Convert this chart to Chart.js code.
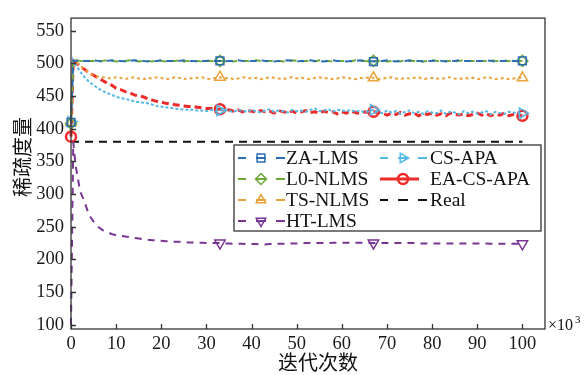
<!DOCTYPE html>
<html>
<head>
<meta charset="utf-8">
<script src="https://cdn.jsdelivr.net/npm/chart.js@4/dist/chart.umd.min.js"></script>
<style>
  html, body { margin: 0; padding: 0; background: #fff; }
  #wrap { width: 585px; height: 375px; }
</style>
</head>
<body>
<div id="wrap"><canvas id="grafico" width="585" height="375"></canvas></div>
<script>
// Iterações (x10^3)
const iteracoes = [0, 0.5,
  1, 2, 3, 4, 5, 6, 7, 8, 9, 10,
  11, 12, 13, 14, 15, 16, 17, 18, 19, 20,
  21, 22, 23, 24, 25, 26, 27, 28, 29, 30,
  31, 32, 33, 34, 35, 36, 37, 38, 39, 40,
  41, 42, 43, 44, 45, 46, 47, 48, 49, 50,
  51, 52, 53, 54, 55, 56, 57, 58, 59, 60,
  61, 62, 63, 64, 65, 66, 67, 68, 69, 70,
  71, 72, 73, 74, 75, 76, 77, 78, 79, 80,
  81, 82, 83, 84, 85, 86, 87, 88, 89, 90,
  91, 92, 93, 94, 95, 96, 97, 98, 99, 100];

const zaLms = [410, 505,
  504, 505, 504, 504, 505, 504, 503, 504, 505, 504,
  504, 503, 504, 505, 504, 504, 503, 504, 504, 505,
  504, 504, 503, 504, 505, 504, 504, 503, 504, 504,
  505, 504, 504, 503, 504, 504, 505, 504, 503, 504,
  504, 505, 504, 504, 503, 504, 504, 505, 504, 503,
  504, 504, 505, 504, 504, 503, 504, 505, 504, 504,
  503, 504, 504, 505, 504, 504, 503, 504, 504, 505,
  504, 503, 504, 504, 505, 504, 504, 503, 504, 504,
  505, 504, 503, 504, 504, 505, 504, 504, 503, 504,
  504, 505, 504, 503, 504, 504, 505, 504, 504, 504];

const l0Nlms = [408, 505,
  505, 504, 503, 504, 504, 503, 504, 505, 504, 503,
  504, 504, 505, 504, 503, 504, 504, 503, 505, 504,
  503, 504, 504, 505, 503, 504, 504, 504, 503, 504,
  504, 503, 504, 504, 505, 503, 504, 504, 504, 503,
  505, 504, 503, 504, 504, 504, 503, 504, 505, 504,
  503, 504, 504, 503, 505, 504, 504, 503, 504, 504,
  504, 503, 505, 504, 504, 503, 504, 504, 505, 503,
  504, 504, 503, 505, 504, 504, 504, 503, 504, 505,
  504, 503, 504, 504, 503, 504, 505, 504, 504, 503,
  504, 504, 505, 504, 503, 504, 504, 503, 504, 504];

const tsNlms = [410, 505,
  503, 497, 491, 486, 482, 480, 479, 478, 477, 479,
  478, 476, 478, 479, 477, 476, 478, 477, 479, 478,
  476, 477, 479, 478, 476, 478, 477, 478, 479, 477,
  476, 478, 479, 477, 478, 476, 477, 479, 478, 477,
  478, 476, 477, 479, 478, 477, 476, 478, 479, 477,
  478, 477, 476, 478, 479, 477, 478, 476, 477, 479,
  478, 477, 476, 478, 477, 479, 478, 476, 477, 478,
  479, 477, 476, 478, 477, 478, 479, 476, 477, 478,
  477, 476, 478, 479, 477, 476, 478, 477, 478, 476,
  477, 479, 478, 476, 477, 478, 476, 477, 478, 478];

const htLms = [100, 380,
  345, 305, 288, 268, 258, 250, 245, 242, 239, 237,
  236, 235, 234, 233, 232, 231, 230, 229.5, 229, 228.5,
  228, 227.5, 227, 227, 226.5, 226, 226, 225.5, 225.5, 225,
  225, 225, 225, 224.5, 224.5, 224, 224, 224, 223.5, 223.5,
  223.5, 223, 223, 223.5, 223.5, 224, 224, 224, 224.5, 224.5,
  224.5, 225, 225, 225, 225, 225, 225, 225.5, 225.5, 225.5,
  225.5, 225.5, 225.5, 225.5, 225.5, 225.5, 225, 225, 225, 225,
  225, 225, 225, 225, 225, 225, 224.5, 224.5, 224.5, 224.5,
  224.5, 224.5, 224.5, 224.5, 224.5, 224.5, 224.5, 224.5, 224.5, 224.5,
  224.5, 224.5, 224, 224, 224, 224, 224, 224, 224, 224];

const csApa = [411, 505,
  498, 488, 479, 472, 467, 462, 458, 455, 452, 449,
  447, 446, 444, 442, 441, 440, 439, 437, 435, 434,
  433, 432, 431, 430, 430, 429, 429, 428, 428, 427,
  429, 427, 428, 430, 427, 426, 429, 428, 426, 429,
  427, 425, 428, 430, 426, 428, 427, 425, 429, 427,
  428, 426, 429, 431, 427, 428, 430, 426, 429, 428,
  427, 429, 426, 428, 425, 427, 429, 426, 424, 428,
  425, 427, 423, 426, 428, 424, 426, 423, 427, 425,
  424, 428, 423, 426, 425, 422, 427, 424, 426, 423,
  425, 427, 422, 426, 424, 423, 426, 425, 424, 424];

const eaCsApa = [388, 505,
  502, 496, 491, 486, 482, 478, 474, 470, 467, 462,
  460, 457, 455, 452, 450, 449, 446, 444, 442, 441,
  439, 438, 437, 436, 435, 434, 434, 433, 432, 431,
  431, 430, 430, 428, 429, 427, 429, 426, 428, 427,
  425, 428, 426, 427, 424, 428, 426, 425, 427, 424,
  426, 428, 425, 426, 424, 427, 425, 426, 423, 426,
  424, 427, 425, 423, 426, 425, 426, 425, 424, 421,
  424, 422, 425, 421, 423, 424, 420, 423, 422, 424,
  421, 423, 420, 424, 422, 421, 423, 420, 422, 424,
  421, 423, 420, 422, 421, 424, 420, 422, 421, 420];

// Valor real
const realX = [0, 100];
const realY = [380, 380];

const xTicks = [0, 10, 20, 30, 40, 50, 60, 70, 80, 90, 100];
const yTicks = [100, 150, 200, 250, 300, 350, 400, 450, 500, 550];
const marcadoresX = [0, 33, 67, 100];

const fonteSerif = 'Liberation Serif';
const fonteCjk = 'Noto Sans CJK SC';

function pontos(valores) {
  return valores.map((v, i) => ({ x: iteracoes[i], y: v }));
}

function raioMarcador(r, semInicio) {
  return ctx => {
    const x = iteracoes[ctx.dataIndex];
    if (semInicio && x === 0) return 0;
    return marcadoresX.includes(x) ? r : 0;
  };
}

function serie(label, valores, cor, opts) {
  return Object.assign({
    label: label,
    data: pontos(valores),
    borderColor: cor,
    borderWidth: 2,
    pointStyle: 'circle',
    pointRadius: raioMarcador(5),
    pointBorderColor: cor,
    pointBackgroundColor: 'rgba(0,0,0,0)',
    pointBorderWidth: 1.5,
    pointRotation: 0,
    tension: 0,
    clip: false
  }, opts);
}

const datasets = [
  serie('ZA-LMS', zaLms, '#2B6DB3', { borderDash: [7, 5], pointStyle: 'rect', pointRadius: raioMarcador(5.5) }),
  serie('L0-NLMS', l0Nlms, '#6EA73A', { borderDash: [7, 5], borderDashOffset: 6, pointStyle: 'rectRot', pointRadius: raioMarcador(5.5) }),
  serie('TS-NLMS', tsNlms, '#E9A33A', { borderDash: [3, 3], pointStyle: 'triangle', pointRadius: raioMarcador(6) }),
  serie('HT-LMS', htLms, '#7A3593', { borderDash: [7, 6], pointStyle: 'triangle', pointRotation: 180, pointRadius: raioMarcador(6, true) }),
  serie('CS-APA', csApa, '#55B9E8', { borderDash: [3, 2], pointStyle: 'triangle', pointRotation: 90, pointRadius: raioMarcador(6) }),
  serie('EA-CS-APA', eaCsApa, '#EE2B2B', { borderDash: [7, 4], borderWidth: 3, pointRadius: raioMarcador(5), pointBorderWidth: 2.5 }),
  {
    label: 'Real',
    data: realX.map((x, i) => ({ x: x, y: realY[i] })),
    borderColor: '#111',
    borderWidth: 2,
    borderDash: [8, 6],
    pointRadius: 0,
    clip: false
  }
];

// Desenha um marcador simples na legenda
function desenharMarcador(ctx, estilo, x, y, r, rot, cor, largura) {
  ctx.save();
  ctx.setLineDash([]);
  ctx.strokeStyle = cor;
  ctx.lineWidth = largura;
  ctx.translate(x, y);
  ctx.rotate(rot * Math.PI / 180);
  ctx.beginPath();
  if (estilo === 'rect') {
    const s = r * Math.SQRT1_2;
    ctx.rect(-s, -s, 2 * s, 2 * s);
  } else if (estilo === 'rectRot') {
    ctx.moveTo(0, -r); ctx.lineTo(r, 0); ctx.lineTo(0, r); ctx.lineTo(-r, 0); ctx.closePath();
  } else if (estilo === 'triangle') {
    ctx.moveTo(0, -r);
    ctx.lineTo(r * Math.cos(Math.PI / 6), r * 0.5);
    ctx.lineTo(-r * Math.cos(Math.PI / 6), r * 0.5);
    ctx.closePath();
  } else {
    ctx.arc(0, 0, r, 0, Math.PI * 2);
  }
  ctx.stroke();
  ctx.restore();
}

const legendaPlugin = {
  id: 'legenda',
  afterDatasetsDraw(chart) {
    const ctx = chart.ctx;
    const caixa = { x: 234, y: 145, w: 307, h: 86 };
    ctx.save();
    ctx.fillStyle = '#fff';
    ctx.fillRect(caixa.x, caixa.y, caixa.w, caixa.h);
    ctx.strokeStyle = '#333';
    ctx.lineWidth = 1.3;
    ctx.strokeRect(caixa.x, caixa.y, caixa.w, caixa.h);

    const linhas = [158, 179, 200, 221];
    const colunas = [
      { x1: 238, xm: 261, x2: 285, xt: 286, itens: [0, 1, 2, 3] },
      { x1: 380, xm: 403, x2: 427, xt: 430, itens: [4, 5, 6] }
    ];
    ctx.font = '19.5px "' + fonteSerif + '"';
    ctx.textBaseline = 'middle';
    ctx.textAlign = 'left';
    colunas.forEach(col => {
      col.itens.forEach((idx, k) => {
        const ds = datasets[idx];
        const y = linhas[k];
        ctx.strokeStyle = ds.borderColor;
        ctx.lineWidth = ds.borderWidth;
        ctx.setLineDash([]);
        ctx.beginPath();
        if (ds.label === 'EA-CS-APA') {
          ctx.moveTo(col.x1, y); ctx.lineTo(col.x2 - 8, y);
        } else {
          ctx.moveTo(col.x1, y); ctx.lineTo(col.x1 + 8, y);
          ctx.moveTo(col.xm - 5, y); ctx.lineTo(col.xm + 5, y);
          ctx.moveTo(col.x2 - 9, y); ctx.lineTo(col.x2, y);
        }
        ctx.stroke();
        if (ds.label !== 'Real') {
          desenharMarcador(ctx, ds.pointStyle, col.xm, y,
            ds.label === 'EA-CS-APA' ? 5 : 5.5, ds.pointRotation || 0,
            ds.borderColor, ds.pointBorderWidth);
        }
        ctx.fillStyle = '#111';
        ctx.fillText(ds.label, col.xt, y + 1);
      });
    });
    ctx.restore();
  },
  afterDraw(chart) {
    const ctx = chart.ctx;
    const a = chart.chartArea;
    const sx = chart.scales.x;
    const sy = chart.scales.y;
    ctx.save();
    // moldura
    ctx.strokeStyle = '#333';
    ctx.lineWidth = 1.3;
    ctx.setLineDash([]);
    ctx.strokeRect(a.left, a.top, a.right - a.left, a.bottom - a.top);
    // marcas para dentro
    ctx.beginPath();
    yTicks.forEach(v => {
      const py = Math.round(sy.getPixelForValue(v)) + 0.5;
      ctx.moveTo(a.left, py); ctx.lineTo(a.left + 5, py);
    });
    xTicks.forEach(v => {
      const px = Math.round(sx.getPixelForValue(v)) + 0.5;
      ctx.moveTo(px, a.bottom); ctx.lineTo(px, a.bottom - 5);
    });
    ctx.stroke();

    // títulos dos eixos
    ctx.fillStyle = '#111';
    ctx.font = '20px "' + fonteCjk + '"';
    ctx.textAlign = 'center';
    ctx.textBaseline = 'middle';
    ctx.fillText('迭代次数', 318, 362);
    ctx.save();
    ctx.translate(22, 157);
    ctx.rotate(-Math.PI / 2);
    ctx.fillText('稀疏度量', 0, 0);
    ctx.restore();

    // multiplicador do eixo x
    ctx.textAlign = 'left';
    ctx.font = '16px "' + fonteSerif + '"';
    ctx.fillText('×10', 548, 326);
    ctx.font = '11px "' + fonteSerif + '"';
    ctx.fillText('3', 575, 320);
    ctx.restore();
  }
};

new Chart(document.getElementById('grafico').getContext('2d'), {
  type: 'line',
  data: { datasets: datasets },
  options: {
    responsive: false,
    animation: false,
    devicePixelRatio: 1,
    layout: { padding: { left: 0, right: 40, top: 11, bottom: 0 } },
    plugins: {
      legend: { display: false },
      tooltip: { enabled: false }
    },
    scales: {
      x: {
        type: 'linear',
        min: 0,
        max: 105,
        grid: { display: false, drawTicks: false },
        border: { display: false },
        afterBuildTicks: scale => { scale.ticks = xTicks.map(v => ({ value: v })); },
        afterFit: scale => { scale.height = 46; },
        ticks: {
          padding: 4,
          autoSkip: false,
          maxRotation: 0,
          color: '#1a1a1a',
          font: { family: fonteSerif, size: 18.5 }
        }
      },
      y: {
        type: 'linear',
        min: 93.5,
        max: 569.5,
        grid: { display: false, drawTicks: false },
        border: { display: false },
        afterBuildTicks: scale => { scale.ticks = yTicks.map(v => ({ value: v })); },
        afterFit: scale => { scale.width = 71; },
        ticks: {
          padding: 7,
          autoSkip: false,
          color: '#1a1a1a',
          font: { family: fonteSerif, size: 18.5 }
        }
      }
    }
  },
  plugins: [legendaPlugin]
});
</script>
</body>
</html>
